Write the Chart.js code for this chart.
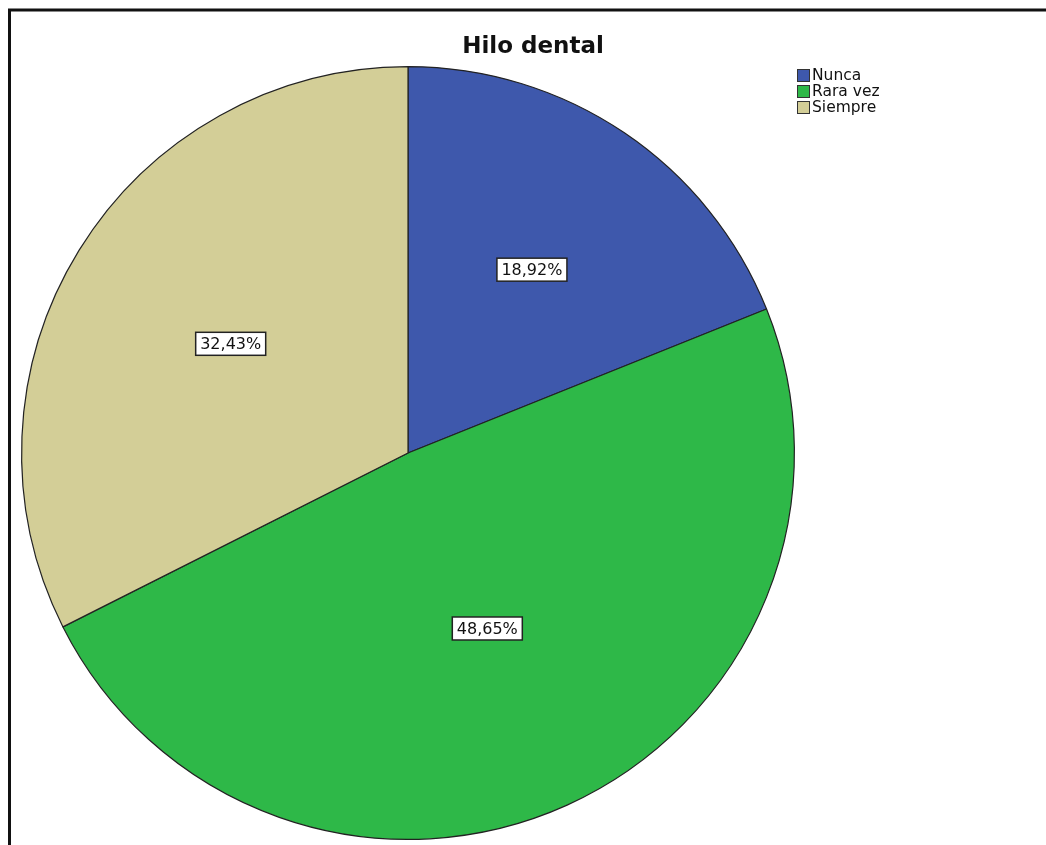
<!DOCTYPE html>
<html>
<head>
<meta charset="utf-8">
<script src="https://cdn.jsdelivr.net/npm/chart.js@4/dist/chart.umd.min.js"></script>
<style>
  body { margin: 0; background: #fff; }
  canvas { display: block; }
</style>
</head>
<body>
<canvas id="myChart" width="1046" height="845"></canvas>
<script>
var chartTitle = "Hilo dental";
var categories = ["Nunca", "Rara vez", "Siempre"];
var percentages = [18.92, 48.65, 32.43];
var sliceColors = ["#3e58ac", "#2eb848", "#d3ce97"];

// frame, title, legend and percentage boxes, drawn SPSS style
var spssDecor = {
  id: "spssDecor",
  afterDraw: function (chart) {
    var ctx = chart.ctx;
    ctx.save();

    // frame (top and left only)
    ctx.strokeStyle = "#111";
    ctx.lineWidth = 3;
    ctx.beginPath();
    ctx.moveTo(1046, 10);
    ctx.lineTo(9.5, 10);
    ctx.lineTo(9.5, 845);
    ctx.stroke();

    // title
    ctx.fillStyle = "#111";
    ctx.font = "bold 23px 'DejaVu Sans'";
    ctx.textAlign = "center";
    ctx.textBaseline = "middle";
    ctx.fillText(chartTitle, 533, 47);

    // legend
    ctx.font = "15.5px 'DejaVu Sans'";
    ctx.textAlign = "left";
    categories.forEach(function (name, i) {
      var y = 69 + i * 16;
      ctx.fillStyle = sliceColors[i];
      ctx.fillRect(797, y, 13, 13);
      ctx.strokeStyle = "#333";
      ctx.lineWidth = 1;
      ctx.strokeRect(797.5, y + 0.5, 12, 12);
      ctx.fillStyle = "#111";
      ctx.fillText(name, 812, y + 7);
    });

    // percentage labels
    var meta = chart.getDatasetMeta(0);
    ctx.font = "16px 'DejaVu Sans'";
    ctx.textAlign = "center";
    meta.data.forEach(function (arc, i) {
      var p = arc.getProps(["x", "y", "startAngle", "endAngle", "outerRadius"], true);
      var mid = (p.startAngle + p.endAngle) / 2;
      var r = p.outerRadius * (0.62 - 0.25 * percentages[i] / 100);
      var cx = p.x + Math.cos(mid) * r;
      var cy = p.y + Math.sin(mid) * r;
      var txt = percentages[i].toFixed(2).replace(".", ",") + "%";
      var w = ctx.measureText(txt).width + 9;
      var h = 23;
      ctx.fillStyle = "#fff";
      ctx.fillRect(cx - w / 2, cy - h / 2, w, h);
      ctx.strokeStyle = "#222";
      ctx.lineWidth = 1.5;
      ctx.strokeRect(cx - w / 2, cy - h / 2, w, h);
      ctx.fillStyle = "#111";
      ctx.fillText(txt, cx, cy + 1);
    });

    ctx.restore();
  }
};

new Chart("myChart", {
  type: "pie",
  data: {
    labels: categories,
    datasets: [{
      data: percentages,
      backgroundColor: sliceColors,
      borderColor: "#222",
      borderWidth: 1.2
    }]
  },
  options: {
    responsive: false,
    animation: false,
    layout: {
      padding: { left: 21, right: 251, top: 66, bottom: 5 }
    },
    plugins: {
      legend: { display: false },
      title: { display: false },
      tooltip: { enabled: false }
    }
  },
  plugins: [spssDecor]
});
</script>
</body>
</html>
